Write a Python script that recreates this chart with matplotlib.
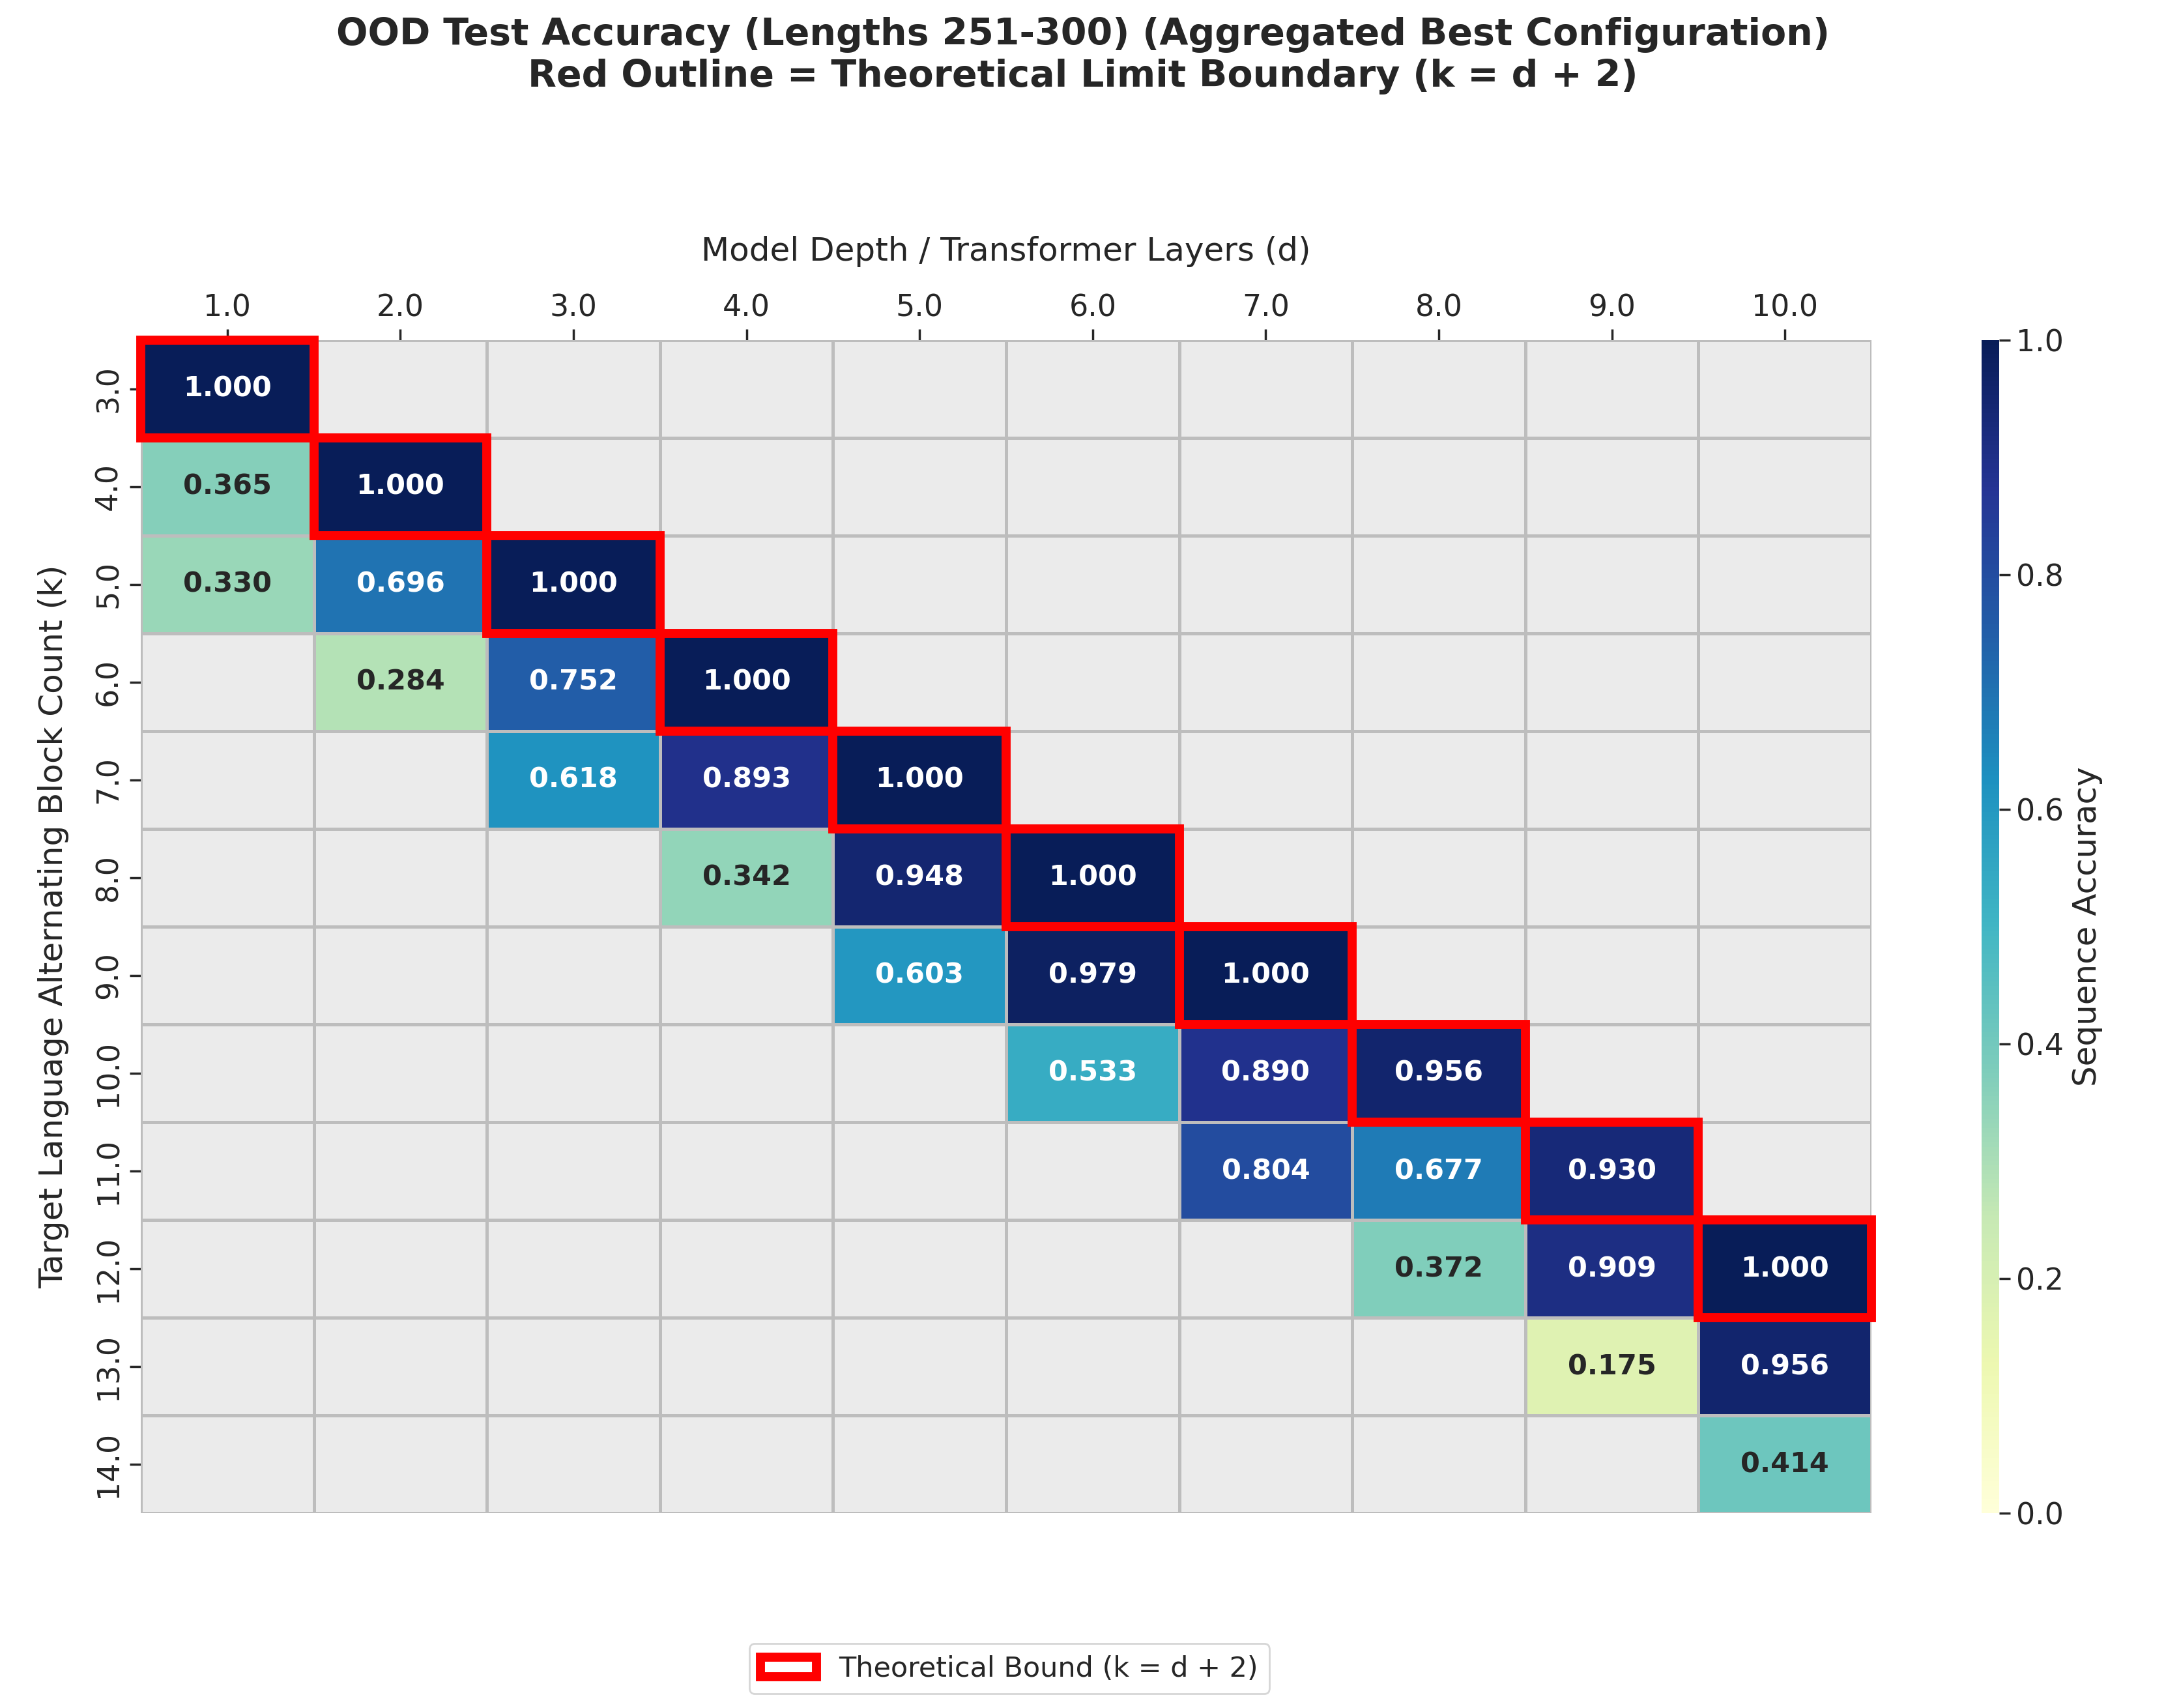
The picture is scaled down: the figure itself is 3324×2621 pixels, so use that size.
import numpy as np
import matplotlib
matplotlib.use("Agg")
import matplotlib.pyplot as plt
import seaborn as sns
from matplotlib.patches import Rectangle, Patch

depths = [1.0, 2.0, 3.0, 4.0, 5.0, 6.0, 7.0, 8.0, 9.0, 10.0]
blocks = [3.0, 4.0, 5.0, 6.0, 7.0, 8.0, 9.0, 10.0, 11.0, 12.0, 13.0, 14.0]
cells = [  # (k, d, accuracy)
    (3, 1, 1.000),
    (4, 1, 0.365), (4, 2, 1.000),
    (5, 1, 0.330), (5, 2, 0.696), (5, 3, 1.000),
    (6, 2, 0.284), (6, 3, 0.752), (6, 4, 1.000),
    (7, 3, 0.618), (7, 4, 0.893), (7, 5, 1.000),
    (8, 4, 0.342), (8, 5, 0.948), (8, 6, 1.000),
    (9, 5, 0.603), (9, 6, 0.979), (9, 7, 1.000),
    (10, 6, 0.533), (10, 7, 0.890), (10, 8, 0.956),
    (11, 7, 0.804), (11, 8, 0.677), (11, 9, 0.930),
    (12, 8, 0.372), (12, 9, 0.909), (12, 10, 1.000),
    (13, 9, 0.175), (13, 10, 0.956),
    (14, 10, 0.414),
]

M = np.full((len(blocks), len(depths)), np.nan)
for k, d, v in cells:
    M[blocks.index(k), depths.index(d)] = v

sns.set_theme(style="white")
fig = plt.figure(figsize=(16.62, 13.105), dpi=200)
ax = fig.add_axes([0.065, 0.114, 0.799, 0.687])
cax = fig.add_axes([0.915, 0.114, 0.008, 0.687])
ax.set_facecolor("#EBEBEB")
sns.heatmap(M, ax=ax, cbar_ax=cax, cmap="YlGnBu", vmin=0, vmax=1,
            annot=True, fmt=".3f", annot_kws={"fontsize": 15.5, "fontweight": "bold"},
            linewidths=1.2, linecolor="#BDBDBD",
            xticklabels=[f"{d:.1f}" for d in depths],
            yticklabels=[f"{k:.1f}" for k in blocks],
            cbar_kws={"label": "Sequence Accuracy"})
ax.xaxis.tick_top()
ax.xaxis.set_label_position("top")
ax.tick_params(axis="both", labelsize=16.5, length=6, left=True, top=True)
ax.set_xlabel("Model Depth / Transformer Layers (d)", fontsize=18, labelpad=18)
ax.set_ylabel("Target Language Alternating Block Count (k)", fontsize=18, labelpad=14)
cax.tick_params(labelsize=16.5, length=6, right=True)
cax.yaxis.label.set_size(18)

for d in depths:
    k = d + 2
    if k in blocks:
        ax.add_patch(Rectangle((depths.index(d), blocks.index(k)), 1, 1, fill=False,
                               edgecolor="red", lw=5, clip_on=False, zorder=5))

fig.suptitle("OOD Test Accuracy (Lengths 251-300) (Aggregated Best Configuration)\n"
             "Red Outline = Theoretical Limit Boundary (k = d + 2)",
             fontsize=20.5, fontweight="bold", y=0.99)
fig.legend(handles=[Patch(facecolor="white", edgecolor="red", lw=5,
                          label="Theoretical Bound (k = d + 2)")],
           loc="center", bbox_to_anchor=(0.466, 0.023), fontsize=15.5)
fig.savefig("out.png", dpi=200)
